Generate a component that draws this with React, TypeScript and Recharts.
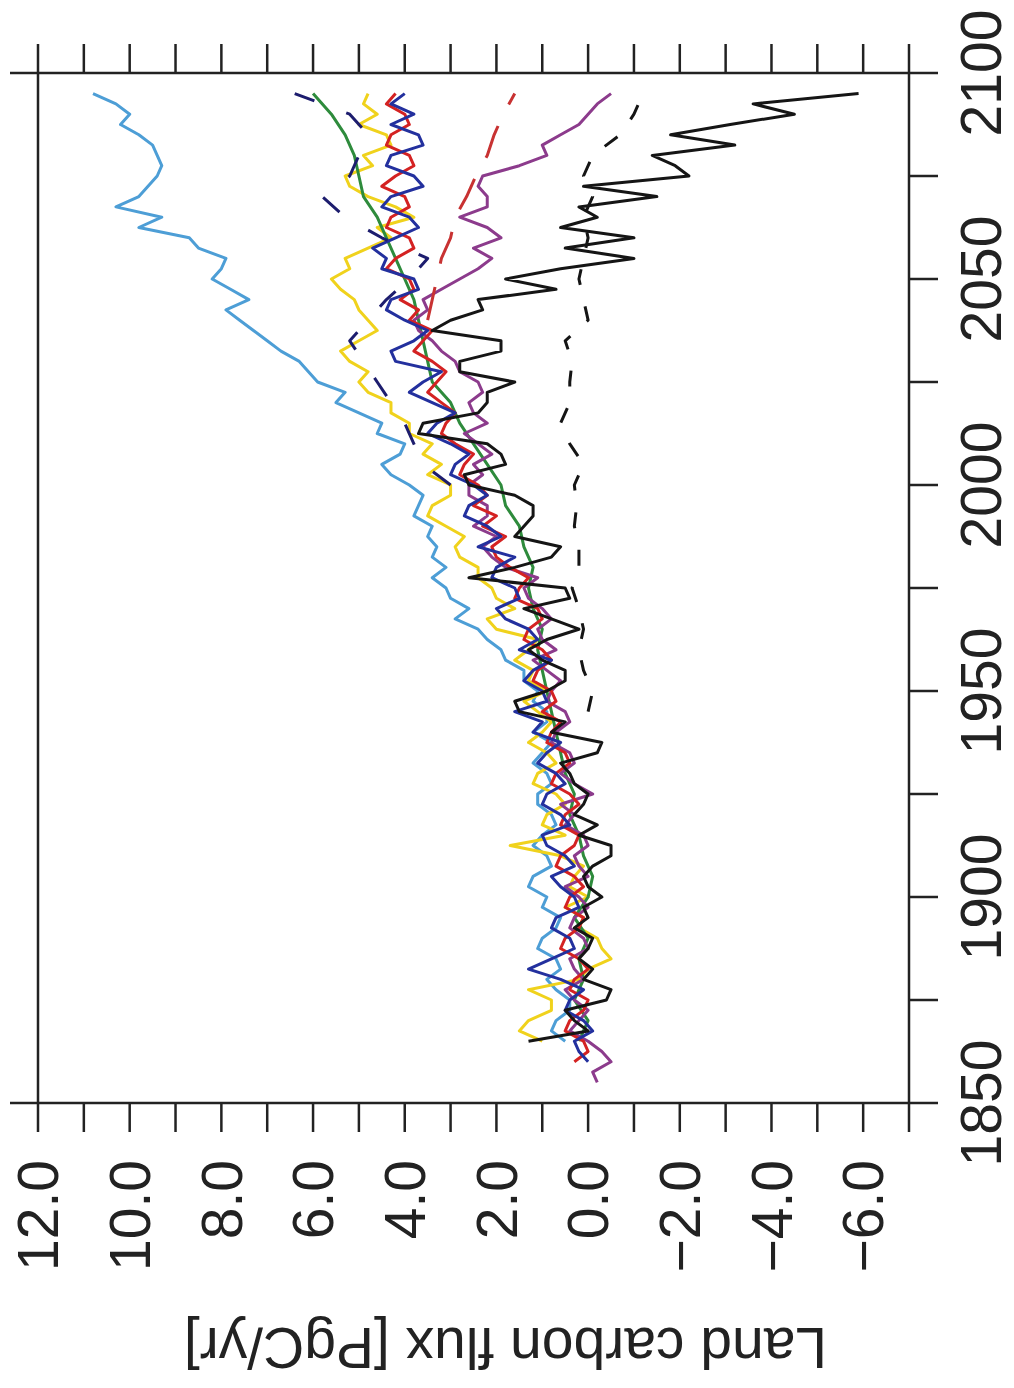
import React from "react";
import { LineChart, Line, XAxis, YAxis } from "recharts";

// chart is drawn in normal orientation and then turned 90deg counter-clockwise
const W = 1388;
const H = 1014;
const FONT = "'Liberation Sans', Arial, Helvetica, sans-serif";
const INK = "#222";

// grid for the noisy annual series (every 2.5 years)
const YEARS_FINE = [
  1855, 1857.5,
  1860, 1862.5, 1865, 1867.5, 1870, 1872.5, 1875, 1877.5,
  1880, 1882.5, 1885, 1887.5, 1890, 1892.5, 1895, 1897.5,
  1900, 1902.5, 1905, 1907.5, 1910, 1912.5, 1915, 1917.5,
  1920, 1922.5, 1925, 1927.5, 1930, 1932.5, 1935, 1937.5,
  1940, 1942.5, 1945, 1947.5, 1950, 1952.5, 1955, 1957.5,
  1960, 1962.5, 1965, 1967.5, 1970, 1972.5, 1975, 1977.5,
  1980, 1982.5, 1985, 1987.5, 1990, 1992.5, 1995, 1997.5,
  2000, 2002.5, 2005, 2007.5, 2010, 2012.5, 2015, 2017.5,
  2020, 2022.5, 2025, 2027.5, 2030, 2032.5, 2035, 2037.5,
  2040, 2042.5, 2045, 2047.5, 2050, 2052.5, 2055, 2057.5,
  2060, 2062.5, 2065, 2067.5, 2070, 2072.5, 2075, 2077.5,
  2080, 2082.5, 2085, 2087.5, 2090, 2092.5, 2095,
];

// grid for the smoother series (every 5 years)
const YEARS_COARSE = [
  1855, 1860, 1865, 1870, 1875, 1880, 1885, 1890, 1895, 1900,
  1905, 1910, 1915, 1920, 1925, 1930, 1935, 1940, 1945, 1950,
  1955, 1960, 1965, 1970, 1975, 1980, 1985, 1990, 1995, 2000,
  2005, 2010, 2015, 2020, 2025, 2030, 2035, 2040, 2045, 2050,
  2055, 2060, 2065, 2070, 2075, 2080, 2085, 2090, 2095,
];

const YEAR_TICKS = [1850, 1875, 1900, 1925, 1950, 1975, 2000, 2025, 2050, 2075, 2100];
const EDGE_YEARS = [1850, 2100];
const FLUX_TICKS = [-7, -6, -5, -4, -3, -2, -1, 0, 1, 2, 3, 4, 5, 6, 7, 8, 9, 10, 11, 12];

// fine series, one line per decade
const LIGHT_BLUE = [
  null, null,
  null, null, 0.5, 0.8, 0.7, 0.4, 0.4, 0.7,
  0.9, 0.6, 0.7, 1.1, 1.0, 0.7, 0.6, 1.0,
  0.9, 1.3, 1.2, 0.8, 0.9, 1.2, 1.0, 0.7,
  0.8, 1.1, 1.1, 0.8, 0.9, 1.2, 1.0, 0.8,
  1.2, 0.9, 0.9, 1.2, 1.1, 1.4, 1.4, 1.8,
  1.9, 2.2, 2.4, 2.9, 2.6, 3.0, 3.1, 3.4,
  3.1, 3.4, 3.3, 3.5, 3.4, 3.8, 3.7, 3.6,
  3.9, 4.3, 4.5, 4.1, 4.0, 4.6, 4.5, 5.0,
  5.5, 5.3, 5.9, 6.1, 6.3, 6.7, 7.0, 7.3,
  7.6, 7.9, 7.4, 7.8, 8.2, 8.0, 7.9, 8.5,
  8.7, 9.8, 9.3, 10.3, 9.8, 9.6, 9.4, 9.3,
  9.4, 9.5, 9.8, 10.2, 10.0, 10.3, 10.8,
];
const YELLOW = [
  null, null,
  null, null, 1.0, 1.5, 1.3, 0.8, 0.8, 1.3,
  0.2, 0.0, -0.5, -0.3, -0.2, 0.2, 0.1, 0.5,
  0.0, 0.4, 0.3, 0.1, 0.6, 1.7, 0.5, 1.0,
  0.9, 0.5, 0.7, 1.2, 1.1, 0.7, 0.9, 1.3,
  1.0, 0.8, 1.1, 1.4, 0.9, 1.3, 1.2, 1.6,
  1.3, 1.1, 2.0, 2.2, 1.6, 2.0, 2.1, 2.4,
  2.4, 2.8, 2.9, 2.7, 3.1, 3.5, 3.4, 3.0,
  3.0, 3.5, 3.2, 3.6, 3.4, 3.9, 3.9, 4.3,
  4.3, 4.8, 5.0, 4.8, 5.2, 5.4, 5.0, 4.6,
  4.8, 5.0, 5.1, 5.4, 5.6, 5.2, 5.3, 4.8,
  4.3, 4.6, 3.8, 4.2, 4.8, 5.2, 5.3, 4.7,
  4.9, 4.3, 4.4, 5.0, 4.6, 4.9, 4.8,
];
const PURPLE = [
  -0.2, -0.1,
  -0.5, -0.3, 0.0, 0.4, 0.2, 0.0, 0.3, 0.5,
  0.1, 0.3, 0.4, 0.0, 0.1, 0.4, 0.3, 0.0,
  0.2, 0.5, 0.0, 0.2, 0.3, 0.0, 0.1, 0.5,
  0.3, 0.6, -0.1, 0.3, 0.6, 0.3, 0.4, 0.8,
  0.7, 0.4, 0.5, 0.9, 0.8, 0.6, 0.9, 1.2,
  0.7, 1.0, 1.1, 0.8, 1.0, 1.3, 1.4, 1.1,
  1.8, 2.1, 2.3, 2.0, 2.5, 2.2, 2.2, 2.6,
  2.6, 2.3, 2.5, 2.1, 2.4, 2.7, 2.2, 2.5,
  2.6, 2.3, 2.4, 2.8, 2.9, 3.2, 3.4, 3.7,
  3.8, 3.5, 3.6, 3.2, 2.8, 2.4, 2.1, 2.5,
  1.9, 2.2, 2.8, 2.2, 2.2, 2.4, 2.3, 1.5,
  0.9, 1.0, 0.6, 0.2, 0.0, -0.2, -0.5,
];
const RED = [
  null, null,
  0.3, 0.0, 0.1, 0.5, 0.4, 0.1, 0.0, 0.4,
  0.3, 0.0, 0.2, 0.6, 0.5, 0.2, 0.1, 0.5,
  0.4, 0.1, 0.3, 0.7, 0.6, 0.3, 0.2, 0.6,
  0.5, 0.2, 0.4, 0.8, 0.7, 0.4, 0.5, 0.9,
  0.8, 0.6, 1.0, 0.7, 0.8, 1.2, 1.1, 0.8,
  1.0, 1.4, 1.3, 1.0, 1.1, 1.6, 1.5, 1.3,
  1.7, 2.0, 2.1, 1.8, 2.3, 2.0, 2.5, 2.2,
  2.4, 2.8, 2.7, 2.5, 2.9, 3.2, 3.1, 2.9,
  3.2, 3.5, 3.3, 3.1, 3.4, 3.8, 3.6, 3.4,
  3.9, 3.7, 4.1, 3.8, 3.9, 4.4, 4.2, 3.8,
  3.9, 4.4, 4.3, 3.9, 4.0, 4.5, 4.2, 3.8,
  3.9, 4.4, 4.3, 3.9, 4.0, 4.4, 4.2,
];
const BLUE = [
  null, null,
  0.0, 0.2, 0.3, -0.1, 0.1, 0.5, 0.4, 0.1,
  0.6, 1.3, 0.8, 0.3, 0.4, 0.8, 0.7, 0.2,
  0.3, 0.6, 0.8, 0.3, 0.5, 0.9, 1.0, 0.4,
  0.6, 1.0, 0.9, 0.5, 0.7, 1.1, 0.9, 0.6,
  1.2, 1.0, 1.6, 0.9, 1.0, 1.4, 1.2, 0.8,
  1.5, 1.1, 1.3, 1.8, 2.0, 1.5, 1.6, 2.1,
  2.0, 1.6, 2.4, 1.9, 2.2, 2.7, 2.6, 2.2,
  2.5, 3.0, 2.9, 2.6, 3.0, 3.5, 3.3, 2.9,
  3.4, 3.9, 3.6, 3.2, 4.2, 4.3, 3.8, 3.5,
  4.0, 4.4, 4.3, 3.7, 3.8, 4.5, 4.4, 4.7,
  4.2, 3.7, 3.9, 4.5, 4.3, 3.6, 3.8, 4.4,
  4.3, 3.6, 3.7, 4.3, 3.8, 4.3, 4.0,
];
const BLACK = [
  null, null,
  null, null, 1.3, 0.0, 0.3, 0.5, -0.4, -0.5,
  0.1, -0.1, 0.2, 0.0, -0.1, 0.3, 0.0, 0.1,
  -0.3, 0.0, 0.1, -0.1, -0.5, -0.5, 0.2, -0.2,
  0.3, 0.1, 0.0, 0.3, 0.4, 0.6, -0.2, -0.3,
  0.8, 0.5, 1.5, 1.6, 0.9, 0.5, 0.5, 1.0,
  1.3, 0.9, 0.2, 0.8, 1.4, 0.4, 0.5, 2.6,
  1.6, 0.8, 0.6, 1.6, 1.4, 1.2, 1.2, 1.6,
  2.6, 2.7, 1.8, 1.9, 2.2, 3.7, 3.6, 2.4,
  2.2, 2.2, 1.6, 2.8, 2.8, 1.9, 1.9, 3.4,
  3.0, 2.3, 2.4, 0.7, 1.8, 0.6, -1.0, 0.5,
  -1.0, 0.6, -0.2, 0.2, -1.5, 0.1, -2.2, -1.9,
  -1.4, -3.2, -1.8, -3.1, -4.5, -3.6, -5.9,
];

// coarse series
const GREEN = [
  null, null, 0.2, 0.0, 0.3, 0.1, 0.2, 0.0, 0.3, 0.0,
  -0.1, 0.1, 0.2, 0.4, 0.3, 0.5, 0.6, 0.7, 0.8, 0.9,
  1.0, 1.1, 1.0, 1.2, 1.3, 1.2, 1.4, 1.5, 1.8, 1.9,
  2.2, 2.5, 2.8, 3.0, 3.4, 3.5, 3.6, 3.7, 3.8, 4.0,
  4.2, 4.4, 4.6, 4.9, 5.0, 5.1, 5.3, 5.6, 6.0,
];
const RED_DASH = [
  null, null, null, null, null, null, null, null, null, null,
  null, null, null, null, null, null, null, null, null, null,
  null, null, null, null, null, null, null, null, null, null,
  null, null, null, null, null, null, null, 3.5, 3.4, 3.3,
  3.2, 3.0, 2.9, 2.65, 2.45, 2.2, 2.05, 1.85, 1.6,
];
const NAVY_DASH = [
  null, null, null, null, null, null, null, null, null, null,
  null, null, null, null, null, null, null, null, null, null,
  null, null, null, null, null, null, null, null, null, 3.0,
  3.6, 3.8, 4.0, 4.3, 4.6, 4.9, 5.2, 4.8, 4.4, 3.9,
  3.5, 4.5, 5.3, 5.8, 5.2, 5.0, 4.8, 5.2, 6.4,
];
const BLACK_DASH = [
  null, null, null, null, null, null, null, null, null, null,
  null, null, null, null, null, null, null, null, 0.0, -0.1,
  0.1, 0.2, 0.1, 0.2, 0.35, 0.2, 0.2, 0.3, 0.25, 0.3,
  0.1, 0.4, 0.6, 0.4, 0.4, 0.35, 0.5, 0.0, 0.1, 0.2,
  0.1, 0.0, 0.1, -0.1, 0.1, -0.1, -0.7, -1.0, -1.2,
];

const SERIES = [
  { key: "lightBlue", years: YEARS_FINE, values: LIGHT_BLUE, color: "#4d9ed6", dash: undefined },
  { key: "yellow", years: YEARS_FINE, values: YELLOW, color: "#f0d21c", dash: undefined },
  { key: "green", years: YEARS_COARSE, values: GREEN, color: "#2e8b3c", dash: undefined },
  { key: "purple", years: YEARS_FINE, values: PURPLE, color: "#8c3b8c", dash: undefined },
  { key: "red", years: YEARS_FINE, values: RED, color: "#d42222", dash: undefined },
  { key: "blue", years: YEARS_FINE, values: BLUE, color: "#23309e", dash: undefined },
  { key: "navyDash", years: YEARS_COARSE, values: NAVY_DASH, color: "#1d1d6e", dash: "22 34" },
  { key: "redDash", years: YEARS_COARSE, values: RED_DASH, color: "#c83232", dash: "34 24" },
  { key: "blackDash", years: YEARS_COARSE, values: BLACK_DASH, color: "#151515", dash: "16 22" },
  { key: "black", years: YEARS_FINE, values: BLACK, color: "#151515", dash: undefined },
];

const rows = YEARS_FINE.map((year) => {
  const row: Record<string, number | null> = { year };
  SERIES.forEach((s) => {
    const i = s.years.indexOf(year);
    row[s.key] = i >= 0 ? s.values[i] : null;
  });
  return row;
});

function fluxLabel(v: number) {
  if (v % 2 !== 0 || v < -6) return "";
  return v < 0 ? "\u2212" + Math.abs(v).toFixed(1) : v.toFixed(1);
}

function FluxTitle(props: any) {
  const vb = props.viewBox || { x: 0, y: 38, width: 285, height: 871 };
  const x = vb.x + 60;
  const y = vb.y + vb.height / 2 + 32;
  return (
    <text
      x={x}
      y={y}
      transform={`rotate(-90 ${x} ${y})`}
      textAnchor="middle"
      fontSize={57}
      fontFamily={FONT}
      fill={INK}
    >
      Land carbon flux [PgC/yr]
    </text>
  );
}

const axisStroke = { stroke: INK, strokeWidth: 2.5 };
const tickStyle = { fontSize: 57, fill: INK, fontFamily: FONT };

export default function App() {
  return (
    <div
      style={{
        position: "absolute",
        left: 0,
        top: 0,
        width: W,
        height: H,
        background: "#fff",
        transformOrigin: "0 0",
        transform: `translate(0px, ${W}px) rotate(-90deg)`,
      }}
    >
      <LineChart
        width={W}
        height={H}
        data={rows}
        margin={{ top: 0, right: 0, bottom: 0, left: 0 }}
      >
        <XAxis
          dataKey="year"
          type="number"
          domain={[1850, 2100]}
          ticks={YEAR_TICKS}
          interval={0}
          allowDataOverflow
          height={105}
          tickSize={29}
          tickMargin={23}
          axisLine={axisStroke}
          tickLine={axisStroke}
          tick={tickStyle}
          tickFormatter={(v: number) => (v % 50 === 0 ? String(v) : "")}
        />
        <XAxis
          xAxisId="top"
          orientation="top"
          dataKey="year"
          type="number"
          domain={[1850, 2100]}
          ticks={EDGE_YEARS}
          interval={0}
          allowDataOverflow
          height={38}
          tickSize={28}
          axisLine={axisStroke}
          tickLine={axisStroke}
          tick={tickStyle}
          tickFormatter={() => ""}
        />
        <YAxis
          type="number"
          domain={[-7, 12]}
          ticks={FLUX_TICKS}
          interval={0}
          allowDataOverflow
          width={285}
          tickSize={29}
          tickMargin={28}
          axisLine={axisStroke}
          tickLine={axisStroke}
          tick={tickStyle}
          tickFormatter={fluxLabel}
          label={<FluxTitle />}
        />
        <YAxis
          yAxisId="right"
          orientation="right"
          type="number"
          domain={[-7, 12]}
          ticks={FLUX_TICKS}
          interval={0}
          allowDataOverflow
          width={73}
          tickSize={29}
          axisLine={axisStroke}
          tickLine={axisStroke}
          tick={tickStyle}
          tickFormatter={() => ""}
        />
        {SERIES.map((s) => (
          <Line
            key={s.key}
            dataKey={s.key}
            stroke={s.color}
            strokeWidth={3}
            strokeDasharray={s.dash}
            dot={false}
            activeDot={false}
            connectNulls
            isAnimationActive={false}
            strokeLinejoin="round"
          />
        ))}
      </LineChart>
    </div>
  );
}
